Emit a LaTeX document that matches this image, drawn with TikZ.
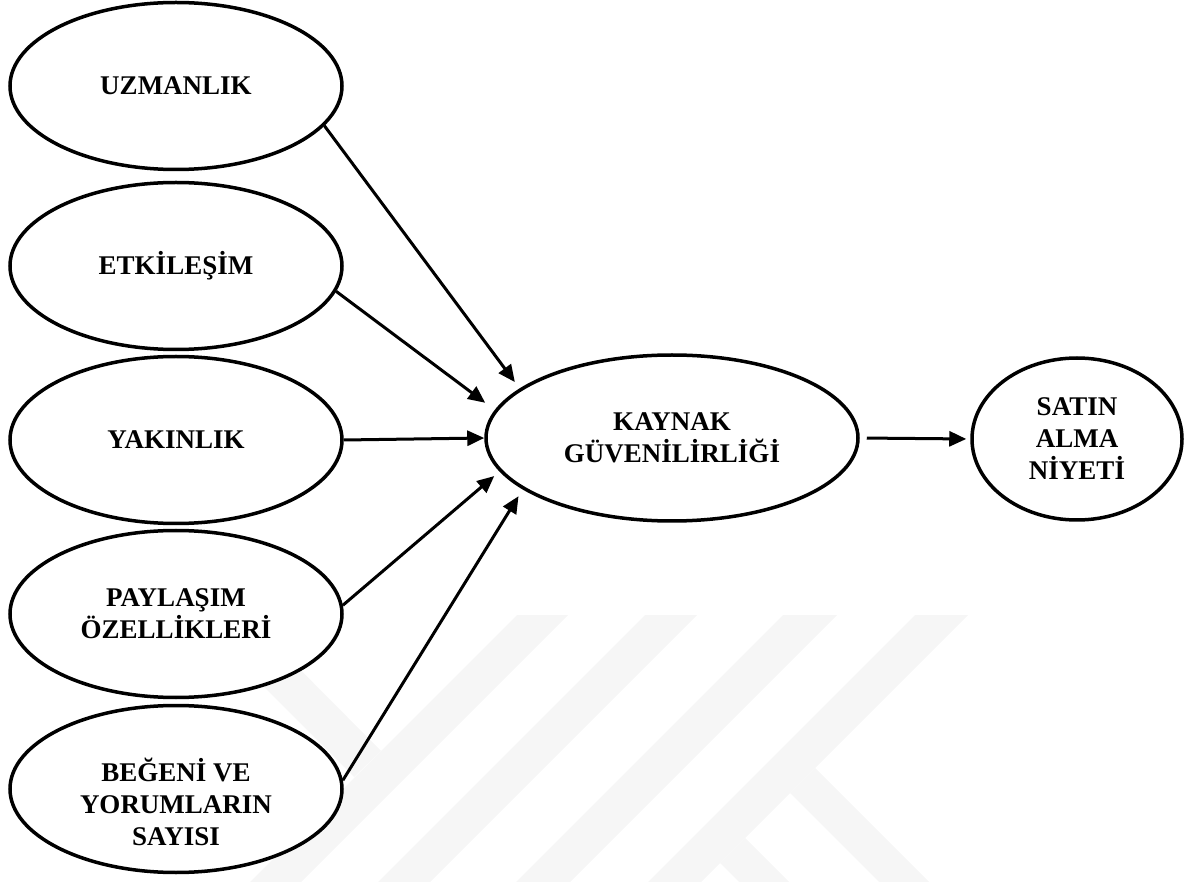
\documentclass[tikz,border=0pt]{standalone}
\usepackage{fontspec}
\setmainfont{Liberation Serif}
\usetikzlibrary{shapes.geometric,arrows.meta}
\begin{document}
\begin{tikzpicture}[x=1pt,y=-1pt,
  lbl/.style={inner sep=0pt,align=center,font=\fontsize{27}{32}\selectfont\bfseries},
  oval/.style={lbl,ellipse,draw=black,line width=3.5pt,fill=white,minimum width=332pt,minimum height=167pt},
  conn/.style={line width=3pt,-{Triangle[length=17pt,width=15pt]}},
  wm/.style={fill=gray!7,draw=none}]
\useasboundingbox (0,0) rectangle (1187,882);
% faint watermark
\fill[wm] (517,615)--(568,615)--(301,882)--(250,882)--cycle;
\fill[wm] (645,615)--(697,615)--(430,882)--(378,882)--cycle;
\fill[wm] (783,615)--(837,615)--(570,882)--(516,882)--cycle;
\fill[wm] (915,615)--(968,615)--(701,882)--(648,882)--cycle;
\fill[wm] (815,768)--(929,882)--(879,882)--(790,793)--cycle;
\fill[wm] (745,838)--(789,882)--(739,882)--(720,863)--cycle;
\fill[wm] (192,615)--(246,615)--(381,751)--(354,777)--cycle;
% nodes
\node[oval] (u) at (176,86) {UZMANLIK};
\node[oval] (e) at (176,266) {ETKİLEŞİM};
\node[oval] (y) at (176,440) {YAKINLIK};
\node[oval] (p) at (176,614) {PAYLAŞIM\\ÖZELLİKLERİ};
\node[oval] (b) at (176,789) {};
\node[lbl] (bt) at (176,802) {BEĞENİ VE\\YORUMLARIN\\SAYISI};
\node[oval,minimum width=372pt,minimum height=166pt] (k) at (672,438) {KAYNAK\\GÜVENİLİRLİĞİ};
\node[oval,minimum width=210pt,minimum height=162pt] (s) at (1077,439) {SATIN\\ALMA\\NİYETİ};
% connectors
\draw[conn,shorten >=8pt] (u.-15.4) -- (k.162.6);
\draw[conn,shorten >=12pt] (e.-9) -- (k.171.6);
\draw[conn] (y.0) -- (k.180);
\draw[conn,shorten >=7pt] (p.3) -- (k.191.2);
\draw[conn,shorten >=8pt] (b.3.8) -- (k.199.2);
\draw[conn,shorten <=7pt,shorten >=4pt] (k.0) -- (s.180);
\end{tikzpicture}
\end{document}
